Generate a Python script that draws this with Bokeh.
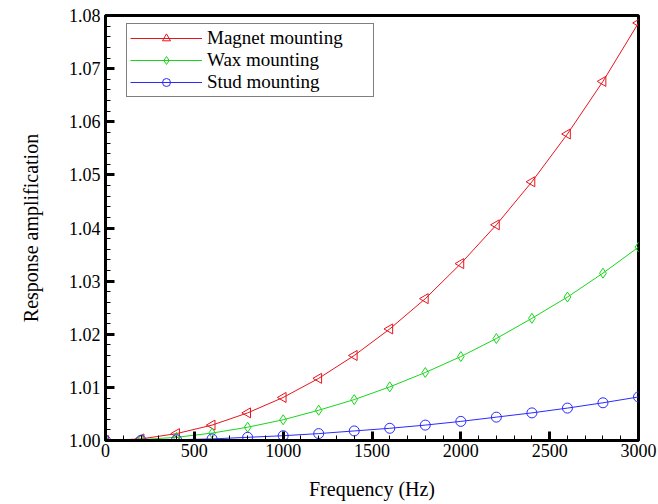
import math
from bokeh.plotting import figure
from bokeh.models import FixedTicker, PrintfTickFormatter, Range1d, Legend, LegendItem, ColumnDataSource
from bokeh.embed import file_html
from bokeh.resources import INLINE

freq = [0, 200, 400, 600, 800, 1000, 1200, 1400, 1600, 1800, 2000, 2200, 2400, 2600, 2800, 3000]
magnet = [1.0000, 1.0003, 1.0013, 1.0029, 1.0052, 1.0081, 1.0117, 1.0160, 1.0210, 1.0267,
          1.0333, 1.0406, 1.0487, 1.0577, 1.0676, 1.0786]
wax = [1.0000, 1.00016, 1.0006, 1.0014, 1.0025, 1.0039, 1.0057, 1.0077, 1.0101, 1.0128,
       1.0158, 1.0192, 1.0230, 1.0270, 1.0315, 1.0364]
stud = [1.0000, 1.00004, 1.00015, 1.0003, 1.0006, 1.0009, 1.0013, 1.0018, 1.0023, 1.0029,
        1.0036, 1.0044, 1.0052, 1.0061, 1.0071, 1.0082]
x_ticks = [0, 500, 1000, 1500, 2000, 2500, 3000]
y_ticks = [1.00, 1.01, 1.02, 1.03, 1.04, 1.05, 1.06, 1.07, 1.08]
names = ["Magnet mounting", "Wax mounting", "Stud mounting"]

FONT = "Liberation Serif"

p = figure(width=658, height=504, output_backend="svg", toolbar_location=None,
           x_range=Range1d(0, 3000), y_range=Range1d(1.0, 1.08),
           min_border_left=105, min_border_right=20, min_border_top=15, min_border_bottom=64)
p.grid.visible = False
p.outline_line_color = "black"
p.outline_line_width = 3
p.background_fill_color = "white"
p.border_fill_color = "white"

for ax in (p.xaxis[0], p.yaxis[0]):
    ax.axis_line_width = 3
    ax.axis_line_color = "black"
    ax.major_tick_in = 9
    ax.major_tick_out = 0
    ax.major_tick_line_width = 3
    ax.minor_tick_in = 5
    ax.minor_tick_out = 0
    ax.minor_tick_line_width = 1
    ax.major_label_text_font = FONT
    ax.major_label_text_font_size = "18px"
    ax.major_label_text_color = "black"
    ax.axis_label_text_font = FONT
    ax.axis_label_text_font_size = "20px"
    ax.axis_label_text_font_style = "normal"
    ax.axis_label_text_color = "black"

p.xaxis[0].ticker = FixedTicker(ticks=x_ticks, minor_ticks=list(range(0, 3001, 100)))
p.yaxis[0].ticker = FixedTicker(ticks=y_ticks, minor_ticks=[1.0 + i * 0.002 for i in range(41)])
p.yaxis[0].formatter = PrintfTickFormatter(format="%.2f")
p.xaxis[0].axis_label = "Frequency (Hz)"
p.yaxis[0].axis_label = "Response amplification"
p.xaxis[0].major_label_standoff = 3
p.xaxis[0].axis_label_standoff = 18
p.yaxis[0].major_label_standoff = 5
p.yaxis[0].axis_label_standoff = 24

colors = ["#e8141c", "#19d61c", "#2a2aff"]
markers = ["triangle", "diamond", "circle"]
angles = [math.pi / 2, 0.0, 0.0]
items = []
for ys, name, c, m, a in zip([magnet, wax, stud], names, colors, markers, angles):
    src = ColumnDataSource(dict(x=freq, y=ys, ang=[a] * len(freq)))
    ln = p.line("x", "y", source=src, line_color=c, line_width=1)
    sc = p.scatter("x", "y", source=src, marker=m, angle="ang", size=10,
                   line_color=c, fill_color=None, line_width=1)
    items.append(LegendItem(label=name, renderers=[ln, sc], index=5))

legend = Legend(items=items, location=(21, 343))
legend.border_line_color = "black"
legend.border_line_width = 1
legend.background_fill_color = "white"
legend.background_fill_alpha = 1
legend.padding = 3
legend.spacing = 0
legend.margin = 0
legend.glyph_width = 72
legend.glyph_height = 20
legend.label_height = 20
legend.label_width = 163
legend.label_standoff = 5
legend.label_text_font = FONT
legend.label_text_font_size = "19px"
legend.label_text_color = "black"
p.add_layout(legend, "center")

open("out.html", "w").write(file_html(p, INLINE))
